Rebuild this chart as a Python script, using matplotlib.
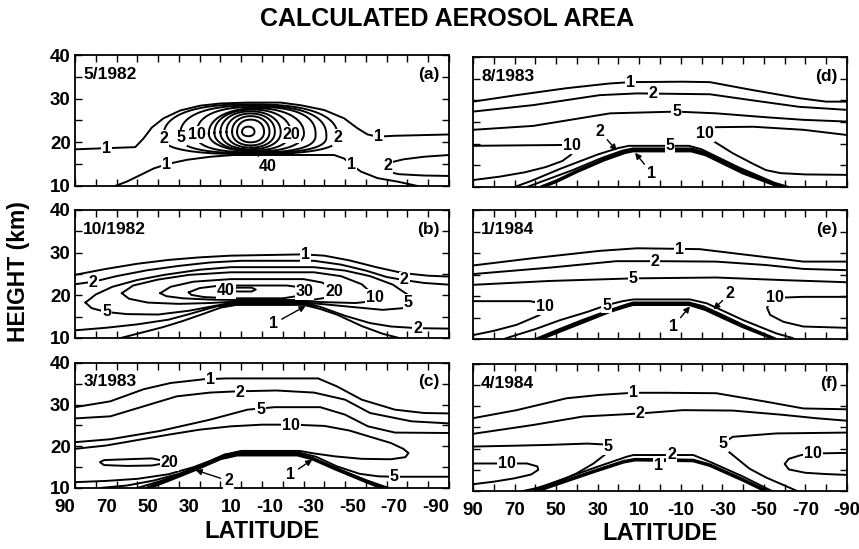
import numpy as np
import matplotlib
matplotlib.use('Agg')
import matplotlib.pyplot as plt

plt.rcParams['font.family'] = ['Liberation Sans', 'DejaVu Sans']
plt.rcParams['font.weight'] = 'bold'

# contour lines as (latitude, height km) pairs, levels in um2/cm3

# (a) 5/1982
a_1_upper = [(90, 18.4), (61, 18.9), (57, 20.9), (53, 23.4), (47.4, 25.5), (39.3, 27.3), (29.7, 28.4),
             (20, 28.9), (7, 29.1), (-9, 29.1), (-18.6, 28.5), (-29.9, 27.4), (-39.5, 25.5), (-46, 23.2),
             (-50.8, 21.8), (-55.6, 21.3), (-63.7, 21.5), (-90, 21.8)]
a_1_lower = [(70.7, 10), (65.1, 11.0), (58.6, 12.5), (52.2, 14.0), (45.8, 15.0), (36.1, 16.0), (24.8, 16.7),
             (13.6, 17.1), (-34.7, 17.1), (-39.5, 16.3), (-42.7, 15.0), (-47.6, 13.3), (-55.6, 11.8),
             (-65.3, 11.0), (-74.9, 10)]
a_2_right = [(-90, 17.1), (-78, 16.7), (-68, 16.1), (-61, 15.3), (-58.5, 14.5), (-60, 13.3), (-66, 12.7),
             (-78, 12.4), (-90, 12.3)]
# closed rings of the cloud core
a_ring_level = [2, 5, 10, 15, 20, 25, 30, 35, 40, 50]
a_ring_left = [47.5, 39.5, 31.5, 25.6, 22.9, 20.0, 17.1, 14.4, 12.0, 9.6]
a_ring_right = [-36.5, -31.0, -25.8, -20.2, -13.8, -9.0, -6.2, -3.6, -1.0, 3.6]
a_ring_top = [28.7, 28.4, 28.1, 27.8, 27.5, 27.1, 26.6, 26.0, 25.2, 23.6]
a_ring_bottom = [17.3, 17.5, 17.7, 17.9, 18.1, 18.4, 18.8, 19.3, 20.0, 21.4]
a_ring_mid = [21.0, 21.3, 21.7, 22.0, 22.2, 22.3, 22.4, 22.4, 22.4, 22.4]

# (b) 10/1982
b_1_upper = [(90, 24.8), (75, 26.2), (60, 27.4), (45, 28.3), (30, 28.9), (15, 29.3), (-20, 29.6), (-30, 29.3),
             (-42, 28.2), (-55, 26.6), (-68, 25.2), (-80, 24.6), (-90, 24.4)]
b_2_upper = [(90, 22.6), (81, 23.2), (70, 24.5), (55, 25.9), (40, 26.9), (25, 27.7), (10, 28.1), (-25, 28.1),
             (-38, 27.2), (-50, 25.8), (-60, 24.3), (-68, 23.6), (-78, 22.9), (-90, 22.5)]
b_5 = [(85, 18.3), (80, 20.2), (72, 22.0), (60, 23.6), (47, 24.8), (30, 26.0), (15, 26.6), (-25, 26.6),
       (-40, 25.8), (-52, 24.5), (-63, 22.5), (-70, 20.2), (-72, 18.5), (-68, 17.0), (-58, 16.6), (-45, 17.2),
       (-30, 17.9), (-20, 18.3), (10, 18.3), (22, 17.6), (35, 16.4), (50, 15.5), (65, 15.6), (75, 16.1),
       (82, 17.0), (85, 18.3)]
b_10 = [(67.5, 20.5), (62, 22.3), (50, 23.7), (35, 24.8), (15, 25.4), (-25, 25.4), (-38, 24.5), (-48, 22.6),
        (-54, 20.0), (-53, 18.6), (-45, 18.2), (-30, 18.4), (-20, 18.6), (10, 18.6), (25, 18.2), (40, 18.0),
        (55, 18.3), (64, 19.2), (67.5, 20.5)]
b_20 = [(49, 20.5), (44, 22.0), (33, 23.2), (15, 23.8), (-20, 23.8), (-29, 23.0), (-34.5, 21.2), (-33, 19.6),
        (-25, 19.0), (-20, 18.9), (10, 18.9), (25, 19.0), (38, 19.3), (46, 19.8), (49, 20.5)]
b_30 = [(35.3, 20.7), (30, 21.7), (20, 22.3), (-12, 22.3), (-18, 21.9), (-20.5, 21.0), (-18, 19.9),
        (-10, 19.3), (15, 19.3), (28, 19.6), (34, 20.1), (35.3, 20.7)]
b_40 = [(15, 21.35), (12, 21.8), (5, 21.8), (3, 21.35), (5, 20.9), (12, 20.9), (15, 21.35)]
b_2_lower = [(90, 11.8), (75, 12.4), (60, 13.2), (45, 14.3), (35, 15.6), (25, 17.0), (18, 17.9), (10, 18.3),
             (-20, 18.3), (-28, 17.3), (-40, 15.2), (-52, 13.5), (-62, 12.7), (-75, 12.3), (-90, 12.2)]
b_1_lower = [(68, 10), (60, 11.0), (48, 12.5), (38, 14.0), (28, 15.7), (20, 17.1), (12, 17.8), (-20, 17.8),
             (-28, 16.8), (-36, 15.5), (-48, 12.8), (-58, 11.0), (-66, 10)]
# dark core of the lower edge near the equator
b_1_core = [(20, 17.6), (12, 18.0), (-20, 18.0), (-25, 17.5)]

# (c) 3/1983
c_1 = [(90, 29.4), (73, 30.8), (57, 33.7), (44, 35.2), (28, 36.1), (17, 36.3), (-27, 36.3), (-36, 34.4),
       (-48, 31.2), (-64, 28.8), (-78, 28.0), (-90, 27.9)]
c_2 = [(90, 26.7), (73, 27.2), (57, 29.6), (41, 32.0), (25, 32.9), (12, 33.2), (-7, 33.4), (-25, 32.9),
       (-40, 31.2), (-52, 28.0), (-72, 26.0), (-90, 25.5)]
c_5_upper = [(90, 21.0), (73, 21.7), (49, 23.7), (25, 26.4), (7, 28.8), (-6, 29.4), (-28, 29.4), (-40, 27.6),
             (-51, 24.8), (-64, 23.3), (-90, 23.2)]
c_10 = [(90, 19.4), (75, 20.2), (60, 21.5), (45, 22.8), (30, 24.0), (15, 24.8), (0, 25.2), (-15, 25.2),
        (-30, 24.9), (-42, 23.8), (-52, 22.3), (-62, 20.8), (-68, 19.4), (-70.5, 18.4), (-69, 17.4),
        (-62, 16.9), (-48, 17.0), (-35, 17.6), (-25, 18.3), (-18, 18.9), (10, 18.9), (18, 18.0), (25, 16.5),
        (33, 15.0), (45, 13.3), (60, 12.2), (75, 11.7), (90, 11.4)]
c_20 = [(44, 16.2), (53, 17.1), (65, 16.9), (76, 16.7), (78, 16.2), (76, 15.5), (65, 15.3), (53, 15.4),
        (44, 16.2)]
c_5_lower = [(78, 10), (65, 10.6), (52, 11.8), (40, 13.4), (28, 15.7), (18, 18.0), (10, 18.6), (-17, 18.6),
             (-26, 17.5), (-36, 15.2), (-47, 13.4), (-56, 12.8), (-64, 12.7), (-90, 12.7)]
c_2_lower = [(60, 10), (48, 11.8), (35, 14.1), (22, 17.1), (13, 18.3), (-17, 18.3), (-25, 17.0), (-37, 14.5),
             (-50, 11.9), (-61, 10)]
c_1_lower = [(55, 10), (45, 11.9), (32, 14.5), (20, 17.1), (12, 18.0), (-17, 18.0), (-24, 17.1), (-35, 14.7),
             (-48, 12.0), (-58, 10)]

# (d) 8/1983
d_1 = [(90, 29.7), (69, 31.2), (45, 32.8), (24, 33.9), (14, 34.2), (-11, 34.3), (-24, 34.2), (-43, 32.5),
       (-67, 30.5), (-80, 29.7), (-90, 29.7)]
d_2 = [(90, 27.4), (61, 28.9), (29, 31.2), (11, 31.6), (-24, 31.4), (-43, 30.1), (-67, 28.5), (-90, 27.8)]
d_5 = [(90, 23.2), (61, 24.1), (24, 27.0), (-8, 27.4), (-27, 27.0), (-51, 26.1), (-69, 25.5), (-90, 25.1)]
d_10_left = [(90, 19.5), (70, 19.6), (46, 19.7), (42, 18.0), (43, 17.4), (47, 16.0), (55, 14.6), (65, 13.4),
             (77, 12.4), (90, 11.6)]
d_10_right = [(-90, 22.0), (-69, 23.2), (-45, 23.9), (-26, 23.8), (-21, 22.4), (-26, 20.5), (-35, 17.8),
              (-45, 15.3), (-51, 13.9), (-58, 13.2), (-70, 12.9), (-90, 12.8)]
d_5_lower = [(70, 10.0), (62, 11.4), (48, 14.2), (30, 17.5), (20, 19.0), (15, 19.5), (-14, 19.5), (-20, 18.7),
             (-38, 14.5), (-55, 11.0), (-62, 10.0)]
d_2_lower = [(64, 10.0), (55, 11.6), (42, 13.9), (28, 16.7), (18, 18.4), (13, 18.9), (-15, 18.9), (-21, 18.1),
             (-39, 14.0), (-56, 10.6), (-60, 10.0)]
d_1_lower = [(57, 10.0), (50, 11.3), (40, 13.6), (27, 16.3), (17, 18.0), (13, 18.4), (-15, 18.4), (-22, 17.5),
             (-40, 13.3), (-55, 10.6), (-58, 10.0)]

# (e) 1/1984
e_1 = [(90, 27.1), (61, 28.8), (29, 30.5), (11, 31.1), (-19, 30.9), (-43, 29.5), (-69, 28.0), (-90, 28.0)]
e_2 = [(90, 25.1), (53, 26.6), (21, 28.1), (2, 28.1), (-27, 28.0), (-51, 27.2), (-69, 26.3), (-90, 26.0)]
e_5 = [(90, 22.6), (53, 23.5), (13, 24.1), (-27, 24.3), (-59, 23.7), (-90, 23.2)]
e_10_left = [(90, 18.8), (62.6, 18.8), (57, 18.3), (55.4, 17.5), (57.8, 15.6), (69, 13.3), (80, 11.9),
             (90, 10.9)]
e_10_right = [(-90, 19.8), (-69, 19.8), (-57, 19.6), (-53, 18.6), (-51.5, 17.3), (-53, 15.6), (-59.4, 14.0),
              (-69, 12.9), (-90, 12.6)]
e_5_lower = [(75, 10), (72, 10.5), (60, 12.3), (48, 14.4), (35, 16.3), (25.6, 17.9), (18, 18.8), (12.8, 19.2),
             (-14.4, 19.2), (-22.5, 18.3), (-40, 14.4), (-56, 11.3), (-64, 10.2)]
e_2_lower = [(60, 10), (50, 12.0), (38, 14.3), (25, 16.6), (17, 17.9), (13, 18.5), (-14, 18.5), (-21, 17.6),
             (-30, 15.6), (-40, 13.3), (-50, 11.2), (-56, 10)]
e_1_lower = [(58, 10), (48, 11.9), (37, 14.0), (24, 16.5), (16, 17.7), (13, 18.1), (-14, 18.1), (-22, 16.9),
             (-30, 15.1), (-40, 12.9), (-50, 11.0), (-55, 10)]

# (f) 4/1984
f_1 = [(90, 27.2), (69, 29.1), (45, 31.9), (29, 32.7), (13, 33.2), (-3, 33.2), (-27, 33.1), (-51, 31.1),
       (-69, 29.5), (-90, 29.3)]
f_2 = [(90, 23.5), (61, 25.6), (37, 27.6), (10, 28.3), (-11, 29.1), (-35, 29.0), (-59, 28.0), (-75, 27.2),
       (-90, 26.6)]
f_5_left = [(90, 20.5), (70, 20.7), (53, 20.9), (35, 21.2), (27, 21.0), (25, 20.0), (25.7, 18.9), (32, 16.5),
            (40, 14.2), (48, 12.4), (56, 11.0), (66, 10)]
f_10_left = [(90, 16.5), (80, 16.5), (64, 16.5), (59, 15.8), (58.6, 15.0), (62, 13.9), (70, 13.0), (80, 12.2),
             (90, 11.6)]
f_5_right = [(-90, 23.8), (-56, 23.6), (-35, 22.8), (-31, 21.5), (-32, 19.7), (-38, 17.3), (-43, 15.3),
             (-51, 13.2), (-59, 11.5), (-66, 10.0)]
f_10_right = [(-90, 19.0), (-78, 18.9), (-68, 18.5), (-62, 17.6), (-60, 16.4), (-62, 15.1), (-70, 14.3),
              (-80, 14.0), (-90, 13.8)]
f_2_lower = [(64, 10), (56, 11.2), (48, 12.6), (32, 15.4), (16, 18.1), (12.8, 18.5), (-16, 18.5), (-24, 16.9),
             (-40, 13.4), (-53, 10.2), (-54, 10)]
f_1_lower = [(59.4, 10), (50, 11.6), (32, 14.6), (17.6, 16.9), (12, 17.4), (-16, 17.2), (-24, 16.1),
             (-40, 12.6), (-51, 10)]

# inline labels (text, lat, height) and arrow labels (text, text pos, tip)
a_labels = [('1', 74.7, 18.6), ('1', -56.0, 21.3), ('1', 45.8, 15.0), ('1', -43.0, 15.0), ('2', -60.5, 14.6),
            ('2', 47.4, 20.9), ('5', 38.8, 21.0), ('10', 31.5, 21.7), ('20', -14.2, 21.8), ('2', -36.5, 21.2)]
a_arrows = [('40', (-2.5, 14.4), (5.9, 19.2))]
b_labels = [('1', -21.0, 29.6), ('2', 81.2, 23.1), ('2', -68.5, 23.6), ('5', 74.7, 16.2), ('5', -70.5, 18.3),
            ('10', -54.5, 19.4), ('20', -34.7, 20.9), ('30', -20.5, 20.9), ('40', 17.5, 21.1), ('2', -74.9, 12.3)]
b_arrows = [('1', (-5.7, 13.4), (-21.0, 17.5))]
c_labels = [('1', 24.8, 36.1), ('2', 10.4, 32.9), ('5', 0.7, 28.9), ('10', -13.8, 25.1), ('20', 44.5, 16.2),
            ('5', -63.7, 12.7)]
c_arrows = [('2', (16.0, 11.7), (32.0, 14.3)), ('1', (-13.8, 13.3), (-24.2, 16.8))]
d_labels = [('1', 14.4, 34.2), ('2', 3.2, 31.6), ('5', -8.0, 27.4), ('10', 42.5, 19.5), ('10', -21.7, 22.4),
            ('5', -4.8, 19.6)]
d_arrows = [('2', (28.9, 22.8), (20.8, 18.4)), ('1', (4.0, 13.2), (12.0, 17.9))]
e_labels = [('1', -9.6, 30.8), ('2', 2.4, 28.1), ('5', 12.8, 24.1), ('10', 55.4, 17.5), ('10', -55.4, 19.6),
            ('5', 25.6, 17.9)]
e_arrows = [('2', (-33.7, 20.6), (-25.7, 16.9)), ('1', (-6.4, 12.9), (-14.4, 17.6))]
f_labels = [('1', 12.8, 33.2), ('2', 9.6, 28.3), ('5', 24.9, 20.5), ('10', 73.8, 16.5), ('5', -30.5, 21.3),
            ('10', -73.8, 18.9), ('2', -5.6, 18.7), ('1', 0.8, 16.0)]
f_arrows = []

dates = ['5/1982', '10/1982', '3/1983', '8/1983', '1/1984', '4/1984']
letters = ['(a)', '(b)', '(c)', '(d)', '(e)', '(f)']
lat_ticks = [90, 70, 50, 30, 10, -10, -30, -50, -70, -90]
height_ticks = [10, 20, 30, 40]

panels = [
    dict(lines=[a_1_upper, a_1_lower, a_2_right], heavy=[], labels=a_labels, arrows=a_arrows),
    dict(lines=[b_1_upper, b_2_upper, b_5, b_10, b_20, b_30, b_40, b_2_lower, b_1_lower], heavy=[b_1_core],
         labels=b_labels, arrows=b_arrows),
    dict(lines=[c_1, c_2, c_5_upper, c_10, c_20, c_5_lower, c_2_lower], heavy=[c_1_lower], labels=c_labels,
         arrows=c_arrows),
    dict(lines=[d_1, d_2, d_5, d_10_left, d_10_right, d_5_lower, d_2_lower], heavy=[d_1_lower],
         labels=d_labels, arrows=d_arrows),
    dict(lines=[e_1, e_2, e_5, e_10_left, e_10_right, e_5_lower, e_2_lower], heavy=[e_1_lower],
         labels=e_labels, arrows=e_arrows),
    dict(lines=[f_1, f_2, f_5_left, f_10_left, f_5_right, f_10_right, f_2_lower], heavy=[f_1_lower],
         labels=f_labels, arrows=f_arrows),
]

# panel boxes in pixels: left, top, right, bottom
W, H = 859, 549
boxes = [(75, 55, 449, 186), (75, 210, 449, 338), (75, 363, 449, 488),
         (473, 57, 847, 187), (473, 210, 847, 339), (473, 364, 847, 491)]


def ring(left, right, top, bottom, mid, n=2.5):
    # closed oval through the read extents of one core contour
    t = np.linspace(0, 2 * np.pi, 181)
    c, s = np.cos(t), np.sin(t)
    cx, hw = (left + right) / 2, (left - right) / 2
    x = cx + hw * np.sign(c) * np.abs(c) ** (2 / n)
    up = mid + (top - mid) * np.abs(s) ** (2 / n)
    dn = mid - (mid - bottom) * np.abs(s) ** (2 / n)
    return x, np.where(s >= 0, up, dn)


fig = plt.figure(figsize=(W / 100, H / 100), dpi=100)
lw = 1.4

for i, (p, box) in enumerate(zip(panels, boxes)):
    x0, y0, x1, y1 = box
    ax = fig.add_axes([x0 / W, 1 - y1 / H, (x1 - x0) / W, (y1 - y0) / H])
    ax.set_xlim(90, -90)
    ax.set_ylim(10, 40)

    for group, width in ((p['lines'], lw), (p['heavy'], 2.6)):
        for pts in group:
            pts = np.array(pts)
            ax.plot(pts[:, 0], pts[:, 1], color='black', lw=width, solid_joinstyle='round',
                    solid_capstyle='round')
    if i == 0:
        for k in range(len(a_ring_level)):
            n = 2.5 if a_ring_level[k] <= 10 else 2.15
            x, y = ring(a_ring_left[k], a_ring_right[k], a_ring_top[k], a_ring_bottom[k], a_ring_mid[k], n)
            ax.plot(x, y, color='black', lw=lw)

    for s, lat, h in p['labels']:
        ax.text(lat, h, s, ha='center', va='center', fontsize=11.5, fontweight='bold', zorder=5,
                bbox=dict(boxstyle='square,pad=0.06', fc='white', ec='none'))
    for s, txt, tip in p['arrows']:
        ax.annotate(s, xy=tip, xytext=txt, ha='center', va='center', fontsize=11.5, fontweight='bold',
                    zorder=6, bbox=dict(boxstyle='square,pad=0.06', fc='white', ec='none'),
                    arrowprops=dict(arrowstyle='-|>', color='black', lw=1.0, mutation_scale=9,
                                    shrinkA=2, shrinkB=0))

    ax.text(0.022, 0.85, dates[i], transform=ax.transAxes, ha='left', va='center', fontsize=12.5,
            fontweight='bold')
    ax.text(0.975, 0.85, letters[i], transform=ax.transAxes, ha='right', va='center', fontsize=12.5,
            fontweight='bold')

    ax.set_xticks(lat_ticks)
    ax.set_xticks(np.arange(80, -81, -20), minor=True)
    ax.set_yticks(height_ticks)
    ax.set_yticks([15, 25, 35], minor=True)
    ax.tick_params(which='both', direction='in', length=5, width=1.0, top=True, right=True,
                   labelsize=13.5, pad=3)
    ax.tick_params(axis='x', pad=8)
    for sp in ax.spines.values():
        sp.set_linewidth(1.3)

    if i % 3 != 2:
        ax.set_xticklabels([])
    else:
        ax.set_xticklabels([str(v) for v in lat_ticks])
        if i < 3:
            for lab in ax.get_xticklabels():
                lab.set_horizontalalignment('right')
    if i >= 3:
        ax.set_yticklabels([])

fig.text(0.52, 0.965, 'CALCULATED AEROSOL AREA', ha='center', va='center', fontsize=18, fontweight='bold')
fig.text(0.022, 0.505, 'HEIGHT (km)', rotation=90, ha='center', va='center', fontsize=16.5, fontweight='bold')
fig.text(262 / W, 1 - 532 / H, 'LATITUDE', ha='center', va='center', fontsize=17, fontweight='bold')
fig.text(660 / W, 1 - 534 / H, 'LATITUDE', ha='center', va='center', fontsize=17, fontweight='bold')

fig.savefig('out.png', dpi=100)
